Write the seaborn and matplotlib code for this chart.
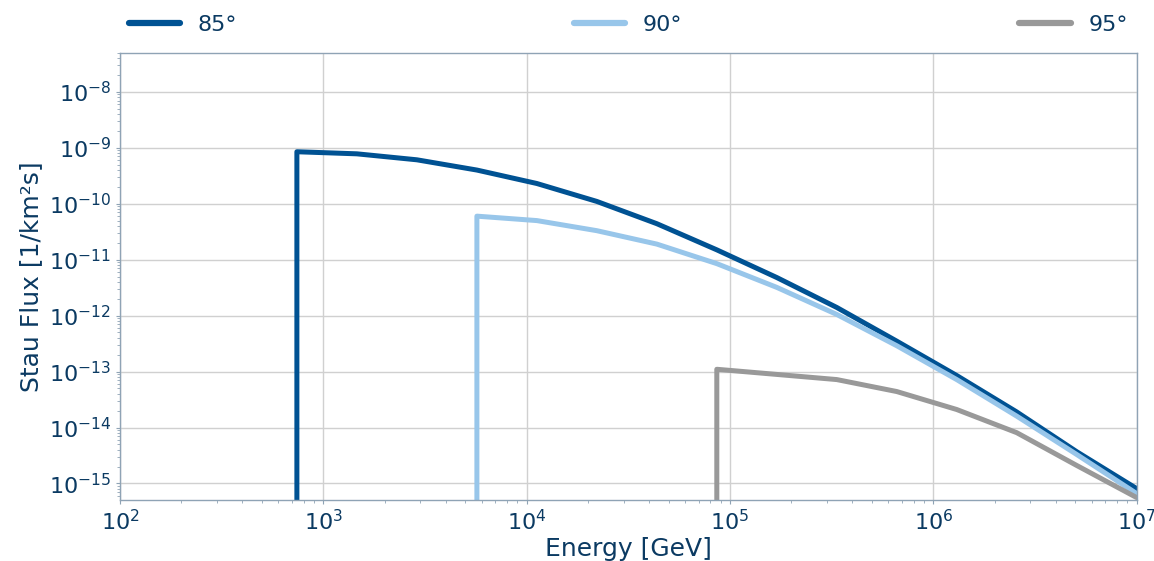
import numpy as np
import pandas as pd
import matplotlib
matplotlib.use("Agg")
import matplotlib.pyplot as plt
import seaborn as sns

# energies [GeV] of the flux points, log spaced up to 1e7
energy = [741, 1462, 2884, 5690, 11220, 22130, 43650, 86100, 169800,
          335000, 660700, 1303000, 2570000, 5070000, 10000000]

# each series starts with a drop to the floor value at its first energy
floor = 1e-20
flux_85 = [8.5e-10, 7.8e-10, 6.1e-10, 4.0e-10, 2.3e-10, 1.1e-10, 4.4e-11,
           1.5e-11, 4.8e-12, 1.4e-12, 3.5e-13, 8.5e-14, 1.9e-14, 3.7e-15, 8.1e-16]
flux_90 = [6.0e-11, 5.0e-11, 3.3e-11, 1.9e-11, 8.5e-12, 3.2e-12, 1.05e-12,
           2.9e-13, 7.2e-14, 1.6e-14, 3.3e-15, 6.6e-16]
flux_95 = [1.1e-13, 8.9e-14, 7.2e-14, 4.4e-14, 2.1e-14, 8.1e-15, 2.1e-15, 5.6e-16]

labels = ["85°", "90°", "95°"]
colors = ["#005293", "#98C6EA", "#999999"]

text_col = "#0b3a62"
spine_col = "#8fa3b5"

frames = []
for lab, f in zip(labels, [flux_85, flux_90, flux_95]):
    e = energy[len(energy) - len(f):]
    frames.append(pd.DataFrame({"Energy": [e[0]] + e, "Flux": [floor] + f, "angle": lab}))
df = pd.concat(frames, ignore_index=True)

sns.set_style("whitegrid")
plt.rcParams['font.family'] = ['DejaVu Sans']

fig, ax = plt.subplots(figsize=(11.54, 5.61), dpi=100)
fig.subplots_adjust(left=0.104, right=0.985, top=0.906, bottom=0.109)

sns.lineplot(data=df, x="Energy", y="Flux", hue="angle", palette=colors,
             estimator=None, sort=False, linewidth=3.6, ax=ax)

ax.set_xscale("log")
ax.set_yscale("log")
ax.set_xlim(1e2, 1e7)
ax.set_ylim(5.1e-16, 5e-8)
ax.set_xticks([1e2, 1e3, 1e4, 1e5, 1e6, 1e7])
ax.set_yticks([1e-15, 1e-14, 1e-13, 1e-12, 1e-11, 1e-10, 1e-9, 1e-8])
ax.yaxis.set_minor_locator(matplotlib.ticker.LogLocator(base=10, subs=np.arange(2, 10), numticks=20))
ax.xaxis.set_minor_locator(matplotlib.ticker.LogLocator(base=10, subs=np.arange(2, 10), numticks=20))

ax.grid(True, which="major", color="#d0d0d0", linewidth=1)
ax.grid(False, which="minor")
for s in ax.spines.values():
    s.set_color(spine_col)
    s.set_linewidth(1)

ax.tick_params(axis="both", which="major", labelsize=16, labelcolor=text_col,
               color=spine_col, length=3, direction="out", left=True, bottom=True)
ax.tick_params(axis="both", which="minor", color=spine_col, length=2, left=True, bottom=True)

ax.set_xlabel("Energy [GeV]", fontsize=18, color=text_col, labelpad=2)
ax.set_ylabel("Stau Flux [1/km²s]", fontsize=18, color=text_col)

handles, labs = ax.get_legend_handles_labels()
leg = ax.legend(handles, labs, loc="lower left", bbox_to_anchor=(0, 1.02, 1, 0.1),
                mode="expand", ncol=3, frameon=False, fontsize=16, handlelength=2.3,
                borderaxespad=0)
for t in leg.get_texts():
    t.set_color(text_col)
for h in leg.get_lines():
    h.set_linewidth(4.5)

fig.savefig("out.png", dpi=100)
